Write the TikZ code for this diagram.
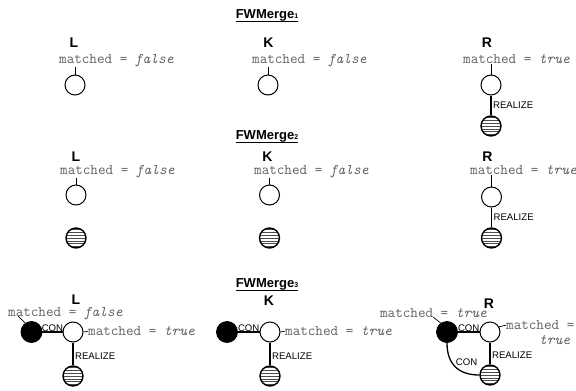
\documentclass[tikz,border=0pt]{standalone}
\usepackage{fontspec}
\setmainfont{Liberation Sans}
\usetikzlibrary{calc}

\newcommand{\lowidx}[1]{\raisebox{-0.5pt}{\fontsize{7}{7}\selectfont #1}}

\tikzset{
  vtx/.style={circle, draw, line width=1pt, minimum size=20pt, inner sep=0pt, fill=white},
  blk/.style={circle, draw, fill=black, line width=0.8pt, minimum size=21pt, inner sep=0pt},
  hatch/.style={circle, draw, line width=1.4pt, minimum size=20pt, inner sep=0pt, fill=white,
    path picture={\foreach \k in {-8.4,-5.6,-2.8,0,2.8,5.6,8.4}{
      \draw[black!70, line width=0.55pt]
        ([yshift=\k pt]path picture bounding box.west) --
        ([yshift=\k pt]path picture bounding box.east);}}},
  side/.style={font=\fontsize{14}{14}\selectfont\bfseries, inner sep=0pt},
  attr/.style={font=\fontsize{14.7}{16}\selectfont\ttfamily, text=black!62, inner sep=0pt},
  elab/.style={font=\fontsize{9.6}{9.6}\selectfont, inner sep=0pt},
  ttl/.style={font=\fontsize{13}{13}\selectfont\bfseries, inner sep=0pt, anchor=base},
  realize/.style={line width=1.3pt},
  con/.style={line width=1.8pt},
  lead/.style={line width=0.7pt},
  uline/.style={line width=1.3pt}
}

\begin{document}
\begin{tikzpicture}[x=1pt, y=-1pt]
\useasboundingbox (0,0) rectangle (576,391);

% ---------- FWMerge 1 ----------
\node[ttl] (t1) at (267,18) {FWMerge\lowidx{1}};
\draw[uline] ($(t1.base west)+(0,3.5)$) -- ($(t1.base east)+(0,3.5)$);

\node[side] (sL1) at (74,43) {L};
\node[side] (sK1) at (268.5,43) {K};
\node[side] (sR1) at (487,43) {R};

\node[attr, anchor=mid west] (aL1) at (59,61) {matched = \textit{false}};
\node[attr, anchor=mid west] (aK1) at (252,61) {matched = \textit{false}};
\node[attr, anchor=mid west] (aR1) at (463,61) {matched = \textit{true}};

\node[vtx] (L1) at (75,85) {};
\node[vtx] (K1) at (268,85) {};
\node[vtx] (R1) at (491,85) {};
\node[hatch] (R1h) at (491,126) {};

\draw[lead] (L1.north) -- (L1.north |- aL1.south);
\draw[lead] (K1.north) -- (K1.north |- aK1.south);
\draw[lead] (R1.north) -- (R1.north |- aR1.south);
\draw[realize] (R1) -- (R1h) node[elab, midway, anchor=west, xshift=1.5pt] {REALIZE};

% ---------- FWMerge 2 ----------
\node[ttl] (t2) at (267,139) {FWMerge\lowidx{2}};
\draw[uline] ($(t2.base west)+(0,3.5)$) -- ($(t2.base east)+(0,3.5)$);

\node[side] (sL2) at (76,157) {L};
\node[side] (sK2) at (267.5,157) {K};
\node[side] (sR2) at (487.5,157) {R};

\node[attr, anchor=mid west] (aL2) at (60,172) {matched = \textit{false}};
\node[attr, anchor=mid west] (aK2) at (254,172) {matched = \textit{false}};
\node[attr, anchor=mid west] (aR2) at (470,172) {matched = \textit{true}};

\node[vtx] (L2) at (76,195) {};
\node[vtx] (K2) at (269.5,195) {};
\node[vtx] (R2) at (491.5,197) {};
\node[hatch] (L2h) at (76,238) {};
\node[hatch] (K2h) at (269.5,238) {};
\node[hatch] (R2h) at (491.5,238) {};

\draw[lead] (L2.north) -- (L2.north |- aL2.south);
\draw[lead] (K2.north) -- (K2.north |- aK2.south);
\draw[lead] (R2.north) -- (R2.north |- aR2.south);
\draw[realize] (R2) -- (R2h) node[elab, midway, anchor=west, xshift=1.5pt] {REALIZE};

% ---------- FWMerge 3 ----------
\node[ttl] (t3) at (267,287) {FWMerge\lowidx{3}};
\draw[uline] ($(t3.base west)+(0,3.5)$) -- ($(t3.base east)+(0,3.5)$);

\node[side] (sL3) at (76,300) {L};
\node[side] (sK3) at (269,301) {K};
\node[side] (sR3) at (489,304) {R};

% L
\node[attr, anchor=mid west] (aL3) at (8,314) {matched = \textit{false}};
\node[blk] (LB3) at (31.5,332) {};
\node[vtx] (LW3) at (73,332) {};
\node[hatch] (LH3) at (73,376) {};
\node[attr, anchor=mid west] (aLW3) at (88,333) {matched = \textit{true}};
\coordinate (lL3) at (18,316);
\draw[lead] (LB3.125) -- (lL3);
\draw[con] (LB3) -- (LW3) node[elab, midway, anchor=south] {CON};
\draw[lead] (LW3.east) -- (aLW3.west);
\draw[realize] (LW3) -- (LH3) node[elab, midway, anchor=west, xshift=1.5pt, yshift=-2pt] {REALIZE};

% K
\node[blk] (KB3) at (227,332) {};
\node[vtx] (KW3) at (270,332) {};
\node[hatch] (KH3) at (270,376) {};
\node[attr, anchor=mid west] (aKW3) at (285,333) {matched = \textit{true}};
\draw[con] (KB3) -- (KW3) node[elab, midway, anchor=south] {CON};
\draw[lead] (KW3.east) -- (aKW3.west);
\draw[realize] (KW3) -- (KH3) node[elab, midway, anchor=west, xshift=1.5pt, yshift=-2pt] {REALIZE};

% R
\node[attr, anchor=mid east] (aR3) at (487,315) {matched = \textit{true}};
\node[blk] (RB3) at (447,332) {};
\node[vtx] (RW3) at (490,332) {};
\node[hatch] (RH3) at (490,375) {};
\node[attr, anchor=mid west] (aRW3) at (506,327) {matched =};
\node[attr, anchor=mid west] (aRW3b) at (539,342) {\textit{true}};
\coordinate (lR3) at (433,317);
\draw[lead] (RB3.125) -- (lR3);
\draw[con] (RB3) -- (RW3) node[elab, midway, anchor=south] {CON};
\draw[lead] (RW3.30) -- (aRW3.west);
\draw[realize] (RW3) -- (RH3) node[elab, midway, anchor=west, xshift=1.5pt, yshift=-2pt] {REALIZE};
\draw[realize] (RB3.south) .. controls +(0,22) and +(-20,0) .. (RH3.west)
  node[elab, pos=0.35, anchor=west, xshift=4pt] {CON};
\end{tikzpicture}
\end{document}
